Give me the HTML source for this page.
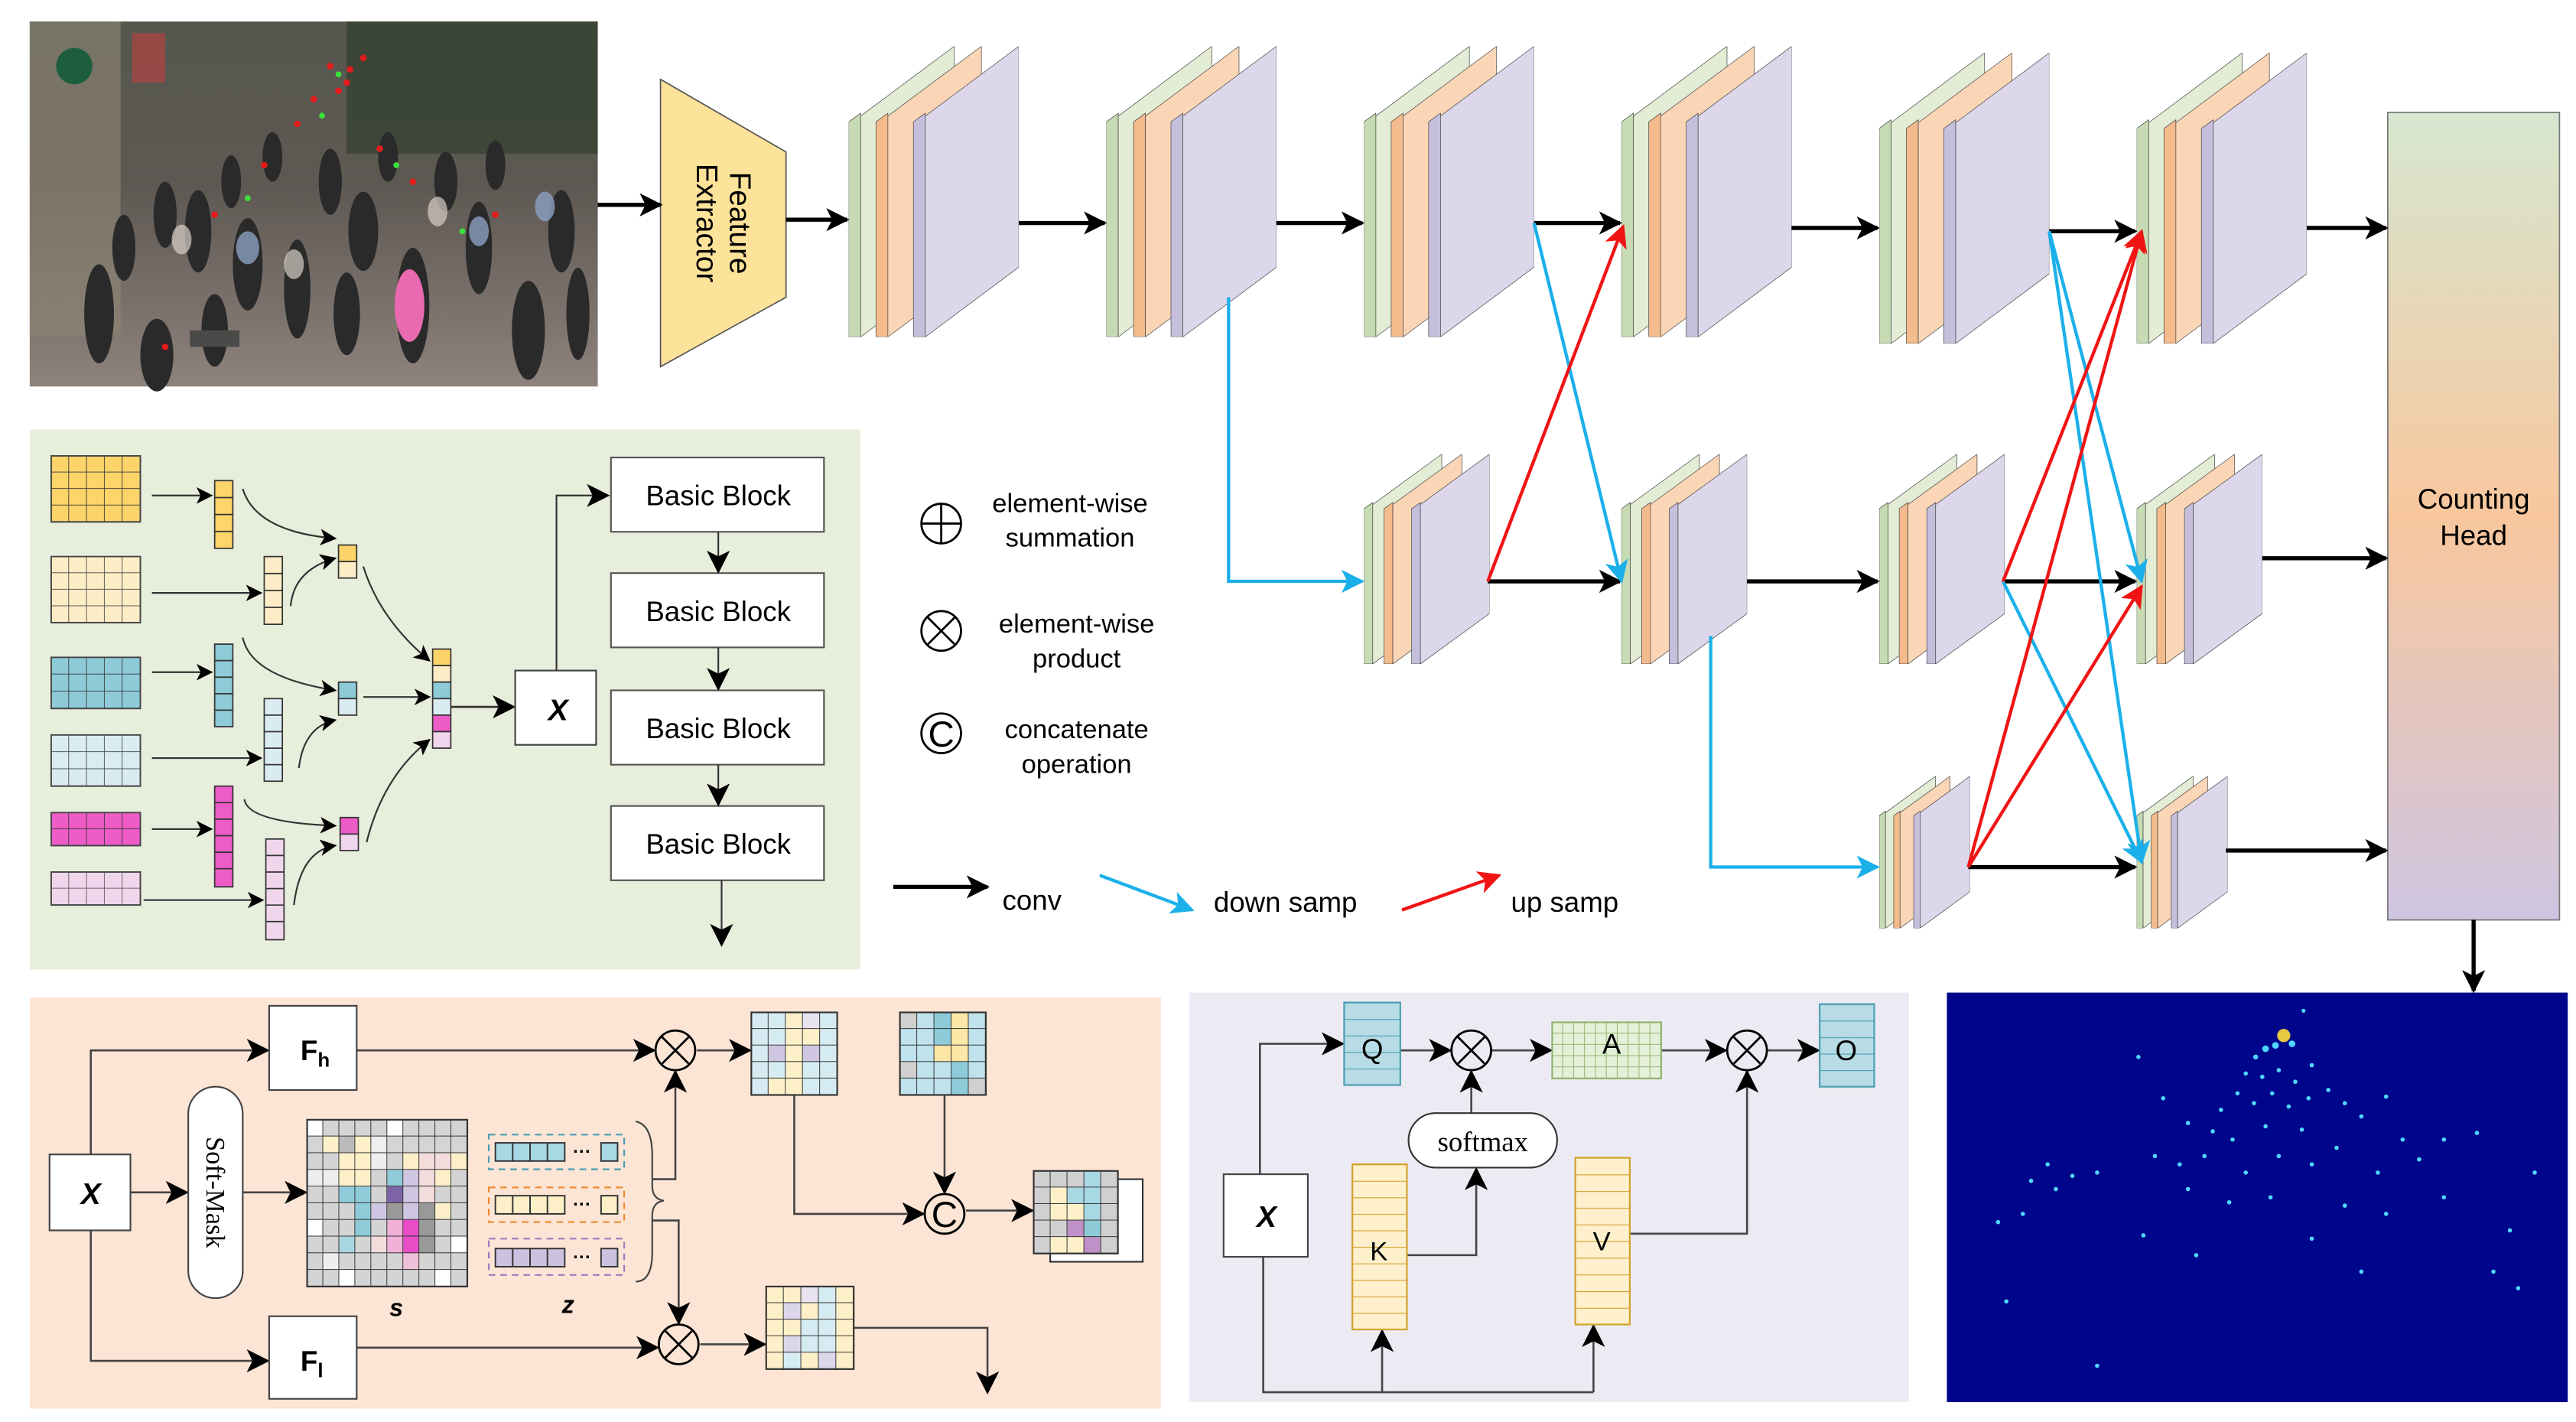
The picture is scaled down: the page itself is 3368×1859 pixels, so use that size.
<!DOCTYPE html>
<html><head><meta charset="utf-8"><style>
html,body{margin:0;padding:0;background:#fff}
svg{display:block}
text{font-family:"Liberation Sans",sans-serif}
text.serif{font-family:"Liberation Serif",serif}
</style></head><body>
<svg xmlns="http://www.w3.org/2000/svg" width="3368" height="1859" viewBox="0 0 1560 861">
<defs>
<marker id="ak" viewBox="0 0 10 10" refX="9" refY="5" markerWidth="14" markerHeight="14" markerUnits="userSpaceOnUse" orient="auto"><path d="M0,0 L10,5 L0,10 L2.5,5z" fill="#000"/></marker>
<marker id="ak2" viewBox="0 0 10 10" refX="9" refY="5" markerWidth="10" markerHeight="10" markerUnits="userSpaceOnUse" orient="auto"><path d="M0,0 L10,5 L0,10 L2.5,5z" fill="#000"/></marker>
<marker id="ab" viewBox="0 0 10 10" refX="9" refY="5" markerWidth="14" markerHeight="14" markerUnits="userSpaceOnUse" orient="auto"><path d="M0,0 L10,5 L0,10 L2.5,5z" fill="#1cb0ea"/></marker>
<marker id="ar" viewBox="0 0 10 10" refX="9" refY="5" markerWidth="14" markerHeight="14" markerUnits="userSpaceOnUse" orient="auto"><path d="M0,0 L10,5 L0,10 L2.5,5z" fill="#f01414"/></marker>
<symbol id="stk" viewBox="0 0 100 100" preserveAspectRatio="none">
 <g stroke="#444" stroke-width="0.7">
 <polygon points="0,26 7,23 7,100 0,100" fill="#c6dbb3" vector-effect="non-scaling-stroke"/>
 <polygon points="7,24 62,0 62,76 7,100" fill="#e3ecd4" vector-effect="non-scaling-stroke"/>
 <polygon points="16,26 23,23 23,100 16,100" fill="#f4bb8c" vector-effect="non-scaling-stroke"/>
 <polygon points="23,24 78,0 78,76 23,100" fill="#fbd6b6" vector-effect="non-scaling-stroke"/>
 <polygon points="38,26 45,23 45,100 38,100" fill="#c5bfdc" vector-effect="non-scaling-stroke"/>
 <polygon points="45,24 100,0 100,76 45,100" fill="#dcd7ea" vector-effect="non-scaling-stroke"/>
 </g>
</symbol>
<linearGradient id="ch" x1="0" y1="0" x2="0" y2="1">
 <stop offset="0" stop-color="#d6e7d0"/><stop offset="0.5" stop-color="#f8c79e"/><stop offset="1" stop-color="#cfc6e2"/>
</linearGradient>
<linearGradient id="ph" x1="0" y1="0" x2="0" y2="1">
 <stop offset="0" stop-color="#55574e"/><stop offset="0.45" stop-color="#5e5853"/><stop offset="1" stop-color="#8e827c"/>
</linearGradient>
<pattern id="gy" x="31" y="276" width="10.8" height="10" patternUnits="userSpaceOnUse"><path d="M10.8 0V10H0" fill="none" stroke="#333" stroke-width="0.8"/></pattern>
<pattern id="gc" x="31" y="337" width="10.8" height="10" patternUnits="userSpaceOnUse"><path d="M10.8 0V10H0" fill="none" stroke="#444" stroke-width="0.8"/></pattern>
<pattern id="gb" x="31" y="398" width="10.8" height="10.33" patternUnits="userSpaceOnUse"><path d="M10.8 0V10.33H0" fill="none" stroke="#333" stroke-width="0.8"/></pattern>
<pattern id="gl" x="31" y="445" width="10.8" height="10.33" patternUnits="userSpaceOnUse"><path d="M10.8 0V10.33H0" fill="none" stroke="#444" stroke-width="0.8"/></pattern>
<pattern id="gm" x="31" y="492" width="10.8" height="10" patternUnits="userSpaceOnUse"><path d="M10.8 0V10H0" fill="none" stroke="#333" stroke-width="0.8"/></pattern>
<pattern id="gp" x="31" y="528" width="10.8" height="10" patternUnits="userSpaceOnUse"><path d="M10.8 0V10H0" fill="none" stroke="#555" stroke-width="0.8"/></pattern>
<pattern id="gs" x="186" y="678" width="9.7" height="10.1" patternUnits="userSpaceOnUse"><path d="M9.7 0V10.1H0" fill="none" stroke="#333" stroke-width="0.9"/></pattern>
<pattern id="gr1" x="455" y="613" width="10.4" height="10" patternUnits="userSpaceOnUse"><path d="M10.4 0V10H0" fill="none" stroke="#333" stroke-width="0.9"/></pattern>
<pattern id="gr2" x="545" y="613" width="10.4" height="10" patternUnits="userSpaceOnUse"><path d="M10.4 0V10H0" fill="none" stroke="#333" stroke-width="0.9"/></pattern>
<pattern id="gr3" x="626" y="709" width="10.2" height="10" patternUnits="userSpaceOnUse"><path d="M10.2 0V10H0" fill="none" stroke="#333" stroke-width="0.9"/></pattern>
<pattern id="gr4" x="464" y="779" width="10.6" height="10" patternUnits="userSpaceOnUse"><path d="M10.6 0V10H0" fill="none" stroke="#333" stroke-width="0.9"/></pattern>
<pattern id="ga" x="940" y="619" width="6.6" height="6.8" patternUnits="userSpaceOnUse"><path d="M6.6 0V6.8H0" fill="none" stroke="#8fb36e" stroke-width="0.9"/></pattern>
<pattern id="gq" x="0" y="607" width="100" height="10" patternUnits="userSpaceOnUse"><path d="M0 0H100" stroke="#4a9db3" stroke-width="1"/></pattern>
<pattern id="go" x="0" y="608" width="100" height="10" patternUnits="userSpaceOnUse"><path d="M0 0H100" stroke="#4a9db3" stroke-width="1"/></pattern>
<pattern id="gk" x="0" y="705" width="100" height="10" patternUnits="userSpaceOnUse"><path d="M0 0H100" stroke="#d1a12c" stroke-width="1"/></pattern>
<pattern id="gv" x="0" y="701" width="100" height="10.1" patternUnits="userSpaceOnUse"><path d="M0 0H100" stroke="#d1a12c" stroke-width="1"/></pattern>
</defs>

<!-- photo -->
<rect x="18" y="13" width="344" height="221" fill="url(#ph)"/>
<rect x="18" y="13" width="55" height="190" fill="#8f8775" opacity="0.6"/>
<rect x="210" y="13" width="152" height="80" fill="#33402f" opacity="0.75"/>
<circle cx="45" cy="40" r="11" fill="#1d5e3e"/>
<rect x="80" y="20" width="20" height="30" fill="#c04040" opacity="0.6"/>
<g fill="#2a2a2a">
<ellipse cx="60" cy="190" rx="9" ry="30"/><ellipse cx="95" cy="215" rx="10" ry="22"/><ellipse cx="120" cy="140" rx="8" ry="25"/><ellipse cx="150" cy="160" rx="9" ry="28"/><ellipse cx="180" cy="175" rx="8" ry="30"/><ellipse cx="220" cy="140" rx="9" ry="24"/><ellipse cx="250" cy="185" rx="10" ry="35"/><ellipse cx="290" cy="150" rx="8" ry="28"/><ellipse cx="320" cy="200" rx="10" ry="30"/><ellipse cx="340" cy="140" rx="8" ry="25"/><ellipse cx="200" cy="110" rx="7" ry="20"/><ellipse cx="270" cy="110" rx="7" ry="18"/><ellipse cx="100" cy="130" rx="7" ry="20"/>
<ellipse cx="140" cy="110" rx="6" ry="16"/><ellipse cx="165" cy="95" rx="6" ry="15"/><ellipse cx="235" cy="95" rx="6" ry="15"/><ellipse cx="300" cy="100" rx="6" ry="15"/><ellipse cx="75" cy="150" rx="7" ry="20"/><ellipse cx="210" cy="190" rx="8" ry="25"/><ellipse cx="350" cy="190" rx="7" ry="28"/><ellipse cx="130" cy="200" rx="8" ry="22"/>
</g>
<g fill="#8aa0c0" opacity="0.8"><ellipse cx="150" cy="150" rx="7" ry="10"/><ellipse cx="290" cy="140" rx="6" ry="9"/><ellipse cx="330" cy="125" rx="6" ry="9"/></g>
<g fill="#d8d0c8" opacity="0.7"><ellipse cx="178" cy="160" rx="6" ry="9"/><ellipse cx="265" cy="128" rx="6" ry="9"/><ellipse cx="110" cy="145" rx="6" ry="9"/></g>
<ellipse cx="248" cy="185" rx="9" ry="22" fill="#e96ab0"/>
<rect x="115" y="200" width="30" height="10" fill="#4a4a48"/>
<g fill="#e21b1b"><circle cx="200" cy="40" r="2"/><circle cx="210" cy="50" r="2"/><circle cx="190" cy="60" r="2"/><circle cx="220" cy="35" r="2"/><circle cx="180" cy="75" r="2"/><circle cx="230" cy="90" r="2"/><circle cx="160" cy="100" r="2"/><circle cx="250" cy="110" r="2"/><circle cx="100" cy="210" r="2"/><circle cx="130" cy="130" r="2"/><circle cx="300" cy="130" r="2"/><circle cx="212" cy="42" r="2"/><circle cx="205" cy="55" r="2"/></g>
<g fill="#3be03b"><circle cx="205" cy="45" r="1.8"/><circle cx="195" cy="70" r="1.8"/><circle cx="240" cy="100" r="1.8"/><circle cx="150" cy="120" r="1.8"/><circle cx="280" cy="140" r="1.8"/></g>

<!-- feature extractor -->
<polygon points="400,48 476,92 476,180 400,222" fill="#fde29a" stroke="#555" stroke-width="0.8"/>
<g transform="translate(438,135) rotate(90)" font-size="18" text-anchor="middle"><text x="0" y="-4">Feature</text><text x="0" y="16">Extractor</text></g>

<!-- stacks -->
<use href="#stk" x="514" y="28" width="103" height="176"/>
<use href="#stk" x="670" y="28" width="103" height="176"/>
<use href="#stk" x="826" y="28" width="103" height="176"/>
<use href="#stk" x="982" y="28" width="103" height="176"/>
<use href="#stk" x="1138" y="32" width="103" height="176"/>
<use href="#stk" x="1294" y="32" width="103" height="176"/>
<use href="#stk" x="826" y="275" width="76" height="127"/>
<use href="#stk" x="982" y="275" width="76" height="127"/>
<use href="#stk" x="1138" y="275" width="76" height="127"/>
<use href="#stk" x="1294" y="275" width="76" height="127"/>
<use href="#stk" x="1138" y="470" width="55" height="92"/>
<use href="#stk" x="1294" y="470" width="55" height="92"/>

<!-- counting head -->
<rect x="1446" y="68" width="104" height="489" fill="url(#ch)" stroke="#777" stroke-width="0.8"/>
<text x="1498" y="308" font-size="17" text-anchor="middle">Counting</text>
<text x="1498" y="330" font-size="17" text-anchor="middle">Head</text>

<!-- black conv arrows -->
<g stroke="#000" stroke-width="2.5" fill="none" marker-end="url(#ak)">
<line x1="362" y1="124" x2="400" y2="124"/>
<line x1="476" y1="133" x2="513" y2="133"/>
<line x1="617" y1="135" x2="669" y2="135"/>
<line x1="773" y1="135" x2="825" y2="135"/>
<line x1="929" y1="135" x2="981" y2="135"/>
<line x1="1085" y1="138" x2="1137" y2="138"/>
<line x1="1241" y1="140" x2="1293" y2="140"/>
<line x1="1397" y1="138" x2="1445" y2="138"/>
<line x1="901" y1="352" x2="981" y2="352"/>
<line x1="1058" y1="352" x2="1137" y2="352"/>
<line x1="1213" y1="352" x2="1293" y2="352"/>
<line x1="1370" y1="338" x2="1445" y2="338"/>
<line x1="1192" y1="525" x2="1293" y2="525"/>
<line x1="1348" y1="515" x2="1445" y2="515"/>
<line x1="1498" y1="557" x2="1498" y2="600"/>
<line x1="541" y1="537" x2="598" y2="537"/>
</g>
<!-- blue -->
<g stroke="#1cb0ea" stroke-width="2" fill="none" marker-end="url(#ab)">
<polyline points="744,180 744,352 825,352"/>
<line x1="929" y1="135" x2="982" y2="352"/>
<polyline points="1036,385 1036,525 1137,525"/>
<line x1="1241" y1="140" x2="1297" y2="352"/>
<line x1="1241" y1="140" x2="1297" y2="522"/>
<line x1="1213" y1="352" x2="1297" y2="522"/>
<line x1="666" y1="530" x2="722" y2="551"/>
</g>
<!-- red -->
<g stroke="#f01414" stroke-width="2" fill="none" marker-end="url(#ar)">
<line x1="901" y1="352" x2="983" y2="137"/>
<line x1="1192" y1="525" x2="1297" y2="140"/>
<line x1="1192" y1="525" x2="1297" y2="355"/>
<line x1="1213" y1="352" x2="1297" y2="140"/>
<line x1="849" y1="551" x2="908" y2="530"/>
</g>
<g font-size="17"><text x="607" y="551">conv</text><text x="735" y="552">down samp</text><text x="915" y="552">up samp</text></g>

<!-- legend -->
<g stroke="#000" stroke-width="1.3" fill="none">
<circle cx="570" cy="317" r="12"/><path d="M558 317H582M570 305V329"/>
<circle cx="570" cy="382" r="12"/><path d="M562 374L578 390M578 374L562 390"/>
<circle cx="570" cy="444" r="12"/>
</g>
<text x="570" y="452" font-size="22" text-anchor="middle">C</text>
<g font-size="16" text-anchor="middle">
<text x="648" y="310">element-wise</text><text x="648" y="331">summation</text>
<text x="652" y="383">element-wise</text><text x="652" y="404">product</text>
<text x="652" y="447">concatenate</text><text x="652" y="468">operation</text>
</g>

<!-- green panel -->
<rect x="18" y="260" width="503" height="327" fill="#e8eedc"/>
<g stroke="#444" stroke-width="0.8">
<rect x="31" y="276" width="54" height="40" fill="#fcd46a"/><rect x="31" y="276" width="54" height="40" fill="url(#gy)"/>
<rect x="31" y="337" width="54" height="40" fill="#fdedc6"/><rect x="31" y="337" width="54" height="40" fill="url(#gc)"/>
<rect x="31" y="398" width="54" height="31" fill="#8dcbd8"/><rect x="31" y="398" width="54" height="31" fill="url(#gb)"/>
<rect x="31" y="445" width="54" height="31" fill="#d9ecf2"/><rect x="31" y="445" width="54" height="31" fill="url(#gl)"/>
<rect x="31" y="492" width="54" height="20" fill="#ee5cc8"/><rect x="31" y="492" width="54" height="20" fill="url(#gm)"/>
<rect x="31" y="528" width="54" height="20" fill="#f0d6ec"/><rect x="31" y="528" width="54" height="20" fill="url(#gp)"/>
</g>
<g stroke="#333" stroke-width="0.8">
<rect x="130" y="291" width="11" height="41" fill="#fcd46a"/><path d="M130 301.25H141M130 311.5H141M130 321.75H141"/>
<rect x="160" y="337" width="11" height="41" fill="#fdedc6"/><path d="M160 347.25H171M160 357.5H171M160 367.75H171"/>
<rect x="130" y="390" width="11" height="50" fill="#8dcbd8"/><path d="M130 400H141M130 410H141M130 420H141M130 430H141"/>
<rect x="160" y="423" width="11" height="50" fill="#d9ecf2"/><path d="M160 433H171M160 443H171M160 453H171M160 463H171"/>
<rect x="130" y="476" width="11" height="61" fill="#ee5cc8"/><path d="M130 486H141M130 496H141M130 506H141M130 516H141M130 526H141"/>
<rect x="161" y="508" width="11" height="61" fill="#f0d6ec"/><path d="M161 518H172M161 528H172M161 538H172M161 548H172M161 558H172"/>
<rect x="205" y="330" width="11" height="10" fill="#fcd46a"/><rect x="205" y="340" width="11" height="10" fill="#fdedc6"/>
<rect x="205" y="413" width="11" height="10" fill="#8dcbd8"/><rect x="205" y="423" width="11" height="10" fill="#d9ecf2"/>
<rect x="206" y="495" width="11" height="10" fill="#ee5cc8"/><rect x="206" y="505" width="11" height="10" fill="#f0d6ec"/>
<rect x="262" y="393" width="11" height="10" fill="#fcd46a"/><rect x="262" y="403" width="11" height="10" fill="#fdedc6"/>
<rect x="262" y="413" width="11" height="10" fill="#8dcbd8"/><rect x="262" y="423" width="11" height="10" fill="#d9ecf2"/>
<rect x="262" y="433" width="11" height="10" fill="#ee5cc8"/><rect x="262" y="443" width="11" height="10" fill="#f0d6ec"/>
</g>
<g stroke="#333" stroke-width="1" fill="none" marker-end="url(#ak2)">
<line x1="92" y1="300" x2="128" y2="300"/>
<line x1="92" y1="359" x2="158" y2="359"/>
<line x1="92" y1="407" x2="128" y2="407"/>
<line x1="92" y1="459" x2="158" y2="459"/>
<line x1="92" y1="502" x2="128" y2="502"/>
<line x1="87" y1="545" x2="159" y2="545"/>
<path d="M147 296 Q155 322 203 326"/>
<path d="M176 367 Q178 345 203 338"/>
<path d="M147 386 Q152 410 203 418"/>
<path d="M181 465 Q184 440 203 436"/>
<path d="M148 484 Q150 498 203 500"/>
<path d="M178 548 Q182 515 203 512"/>
<path d="M220 343 Q230 375 260 400"/>
<line x1="220" y1="422" x2="260" y2="422"/>
<path d="M222 510 Q232 470 260 448"/>
</g>
<line x1="273" y1="428" x2="311" y2="428" stroke="#333" stroke-width="1.3" marker-end="url(#ak)"/>
<rect x="312" y="406" width="49" height="45" fill="#fff" stroke="#444"/>
<text x="338" y="436" font-size="18" font-weight="bold" font-style="italic" text-anchor="middle">X</text>
<polyline points="337,406 337,300 368,300" fill="none" stroke="#333" stroke-width="1" marker-end="url(#ak)"/>
<g fill="#fff" stroke="#555" stroke-width="1">
<rect x="370" y="277" width="129" height="45"/><rect x="370" y="347" width="129" height="45"/><rect x="370" y="418" width="129" height="45"/><rect x="370" y="488" width="129" height="45"/>
</g>
<g font-size="17" text-anchor="middle"><text x="435" y="306">Basic Block</text><text x="435" y="376">Basic Block</text><text x="435" y="447">Basic Block</text><text x="435" y="517">Basic Block</text></g>
<g stroke="#333" stroke-width="1" marker-end="url(#ak)">
<line x1="435" y1="322" x2="435" y2="346"/><line x1="435" y1="392" x2="435" y2="417"/><line x1="435" y1="463" x2="435" y2="487"/><line x1="437" y1="533" x2="437" y2="572"/>
</g>

<!-- bottom-left panel -->
<rect x="18" y="604" width="685" height="249" fill="#fce5d5"/>
<g stroke="#444" stroke-width="1.2" fill="none" marker-end="url(#ak)">
<polyline points="55,699 55,636 162,636"/>
<polyline points="55,745 55,824 162,824"/>
<line x1="79" y1="722" x2="113" y2="722"/>
<line x1="147" y1="722" x2="185" y2="722"/>
<line x1="216" y1="636" x2="396" y2="636"/>
<line x1="216" y1="816" x2="398" y2="816"/>
<polyline points="395,714 409,714 409,649"/>
<polyline points="395,739 411,739 411,801"/>
<line x1="422" y1="636" x2="454" y2="636"/>
<line x1="424" y1="814" x2="463" y2="814"/>
<line x1="572" y1="663" x2="572" y2="722"/>
<polyline points="481,663 481,735 559,735"/>
<line x1="585" y1="733" x2="625" y2="733"/>
<polyline points="517,804 598,804 598,843"/>
</g>
<rect x="30" y="699" width="49" height="46" fill="#fff" stroke="#444"/>
<text x="55" y="729" font-size="18" font-weight="bold" font-style="italic" text-anchor="middle">X</text>
<rect x="163" y="609" width="53" height="51" fill="#fff" stroke="#444"/>
<text x="182" y="642" font-size="17" font-weight="bold">F<tspan font-size="12" dy="4">h</tspan></text>
<rect x="163" y="797" width="53" height="50" fill="#fff" stroke="#444"/>
<text x="182" y="830" font-size="17" font-weight="bold">F<tspan font-size="12" dy="4">l</tspan></text>
<rect x="114" y="658" width="33" height="128" rx="16.5" fill="#fff" stroke="#444"/>
<text class="serif" transform="translate(125,722) rotate(90)" font-size="16" text-anchor="middle">Soft-Mask</text>
<!-- S grid -->
<rect x="186" y="678" width="97" height="101" fill="#d4d4d4"/>
<g stroke="none">
<rect x="186" y="678" width="9.7" height="10.1" fill="#fff"/><rect x="234.5" y="678" width="9.7" height="10.1" fill="#fff"/>
<rect x="195.7" y="688.1" width="9.7" height="10.1" fill="#fdf0c8"/><rect x="205.4" y="688.1" width="9.7" height="10.1" fill="#bbb"/><rect x="215.1" y="688.1" width="9.7" height="10.1" fill="#fdf0c8"/><rect x="224.8" y="688.1" width="9.7" height="20.2" fill="#eee"/>
<rect x="205.4" y="698.2" width="19.4" height="20.2" fill="#fdf0c8"/><rect x="244.2" y="698.2" width="9.7" height="10.1" fill="#fdf0c8"/><rect x="253.9" y="698.2" width="19.4" height="10.1" fill="#f3dcdc"/><rect x="273.3" y="698.2" width="9.7" height="10.1" fill="#fdf0c8"/>
<rect x="186" y="708.3" width="19.4" height="10.1" fill="#eee"/><rect x="234.5" y="708.3" width="9.7" height="10.1" fill="#8fcbd9"/><rect x="244.2" y="708.3" width="9.7" height="10.1" fill="#cfc7e1"/><rect x="253.9" y="708.3" width="9.7" height="10.1" fill="#f3dcdc"/><rect x="263.6" y="708.3" width="9.7" height="10.1" fill="#fdf0c8"/>
<rect x="205.4" y="718.4" width="19.4" height="10.1" fill="#8fcbd9"/><rect x="234.5" y="718.4" width="9.7" height="10.1" fill="#7d64a8"/><rect x="244.2" y="718.4" width="9.7" height="10.1" fill="#cfc7e1"/><rect x="253.9" y="718.4" width="9.7" height="10.1" fill="#f3dcdc"/>
<rect x="215.1" y="728.5" width="9.7" height="10.1" fill="#8fcbd9"/><rect x="224.8" y="728.5" width="9.7" height="10.1" fill="#cfc7e1"/><rect x="234.5" y="728.5" width="9.7" height="10.1" fill="#999"/><rect x="244.2" y="728.5" width="9.7" height="10.1" fill="#cfc7e1"/><rect x="253.9" y="728.5" width="9.7" height="10.1" fill="#999"/><rect x="263.6" y="728.5" width="9.7" height="10.1" fill="#fdf0c8"/>
<rect x="186" y="738.6" width="9.7" height="10.1" fill="#fff"/><rect x="215.1" y="738.6" width="9.7" height="10.1" fill="#8fcbd9"/><rect x="234.5" y="738.6" width="9.7" height="10.1" fill="#f0b0d8"/><rect x="244.2" y="738.6" width="9.7" height="20.2" fill="#e84cc6"/><rect x="253.9" y="738.6" width="9.7" height="20.2" fill="#999"/>
<rect x="205.4" y="748.7" width="9.7" height="10.1" fill="#a8d6e0"/><rect x="224.8" y="748.7" width="9.7" height="10.1" fill="#f3dcdc"/><rect x="234.5" y="748.7" width="9.7" height="10.1" fill="#f0b0d8"/><rect x="273.3" y="748.7" width="9.7" height="10.1" fill="#fff"/>
<rect x="244.2" y="758.8" width="9.7" height="10.1" fill="#f0c0d8"/><rect x="195.7" y="758.8" width="9.7" height="10.1" fill="#eee"/>
<rect x="205.4" y="768.9" width="9.7" height="10.1" fill="#fff"/><rect x="263.6" y="768.9" width="9.7" height="10.1" fill="#fff"/>
</g>
<rect x="186" y="678" width="97" height="101" fill="url(#gs)" stroke="#333"/>
<text x="240" y="797" font-size="15" font-weight="bold" font-style="italic" text-anchor="middle">s</text>
<!-- z -->
<g fill="none" stroke-width="1" stroke-dasharray="4,3">
<rect x="296" y="687" width="82" height="21" stroke="#4a9db3"/>
<rect x="296" y="719" width="82" height="21" stroke="#f08a30"/>
<rect x="296" y="750" width="82" height="22" stroke="#9b7bc0"/>
</g>
<g stroke="#333" stroke-width="0.9">
<rect x="300" y="692" width="42" height="11" fill="#a9d8e5"/><path d="M310.5 692V703M321 692V703M331.5 692V703"/><rect x="364" y="692" width="10" height="11" fill="#a9d8e5"/>
<rect x="300" y="724" width="42" height="11" fill="#fdf0c8"/><path d="M310.5 724V735M321 724V735M331.5 724V735"/><rect x="364" y="724" width="10" height="11" fill="#fdf0c8"/>
<rect x="300" y="756" width="42" height="11" fill="#cbc2e0"/><path d="M310.5 756V767M321 756V767M331.5 756V767"/><rect x="364" y="756" width="10" height="11" fill="#cbc2e0"/>
</g>
<g font-size="11" font-weight="bold"><text x="347" y="701">···</text><text x="347" y="733">···</text><text x="347" y="765">···</text></g>
<text x="344" y="795" font-size="15" font-weight="bold" font-style="italic" text-anchor="middle">z</text>
<path d="M385 679 Q395 681 395 700 L395 718 Q395 726 402 727 Q395 728 395 736 L395 758 Q395 776 385 776" fill="none" stroke="#444" stroke-width="1"/>
<g stroke="#000" stroke-width="1.3" fill="#fce5d5">
<circle cx="409" cy="636" r="12"/><path d="M401 628L417 644M417 628L401 644" fill="none"/>
<circle cx="411" cy="814" r="12"/><path d="M403 806L419 822M419 806L403 822" fill="none"/>
<circle cx="572" cy="735" r="12"/>
</g>
<text x="572" y="743" font-size="22" text-anchor="middle">C</text>
<!-- result grids -->
<rect x="455" y="613" width="52" height="50" fill="#d6ecf3"/>
<rect x="475.8" y="613" width="10.4" height="50" fill="#fdf0c8"/><rect x="486.2" y="613" width="10.4" height="20" fill="#e8e4f0"/><rect x="465.4" y="633" width="10.4" height="10" fill="#cfc7e1"/><rect x="486.2" y="633" width="10.4" height="10" fill="#cfc7e1"/><rect x="465.4" y="653" width="10.4" height="10" fill="#fdf0c8"/><rect x="486.2" y="623" width="10.4" height="10" fill="#fdf0c8"/>
<rect x="455" y="613" width="52" height="50" fill="url(#gr1)" stroke="#333"/>
<rect x="545" y="613" width="52" height="50" fill="#bfe2ec"/>
<rect x="545" y="613" width="10.4" height="10" fill="#d0d0d0"/><rect x="565.8" y="613" width="10.4" height="20" fill="#8ecbd9"/><rect x="576.2" y="613" width="10.4" height="50" fill="#fde7a6"/><rect x="565.8" y="633" width="10.4" height="10" fill="#fde7a6"/><rect x="545" y="643" width="10.4" height="10" fill="#d0d0d0"/><rect x="586.6" y="653" width="10.4" height="10" fill="#d0d0d0"/><rect x="576.2" y="643" width="10.4" height="20" fill="#8ecbd9"/>
<rect x="545" y="613" width="52" height="50" fill="url(#gr2)" stroke="#333"/>
<rect x="636" y="714" width="56" height="50" fill="#fff" stroke="#333"/>
<rect x="626" y="709" width="51" height="50" fill="#d0d0d0"/>
<rect x="656.4" y="709" width="10.2" height="30" fill="#a9d8e5"/><rect x="636.2" y="719" width="10.2" height="20" fill="#fdf0c8"/><rect x="646.4" y="719" width="10.2" height="10" fill="#a9d8e5"/><rect x="646.4" y="729" width="10.2" height="10" fill="#fdf0c8"/><rect x="646.4" y="739" width="10.2" height="10" fill="#c090c8"/><rect x="656.4" y="739" width="10.2" height="10" fill="#8ecbd9"/><rect x="636.2" y="749" width="20.4" height="10" fill="#fdf0c8"/><rect x="656.4" y="749" width="10.2" height="10" fill="#c090c8"/>
<rect x="626" y="709" width="51" height="50" fill="url(#gr3)" stroke="#333"/>
<rect x="464" y="779" width="53" height="50" fill="#fdf0c8"/>
<rect x="485.2" y="779" width="10.6" height="10" fill="#e8e4f0"/><rect x="495.8" y="779" width="10.6" height="40" fill="#d6ecf3"/><rect x="474.6" y="789" width="10.6" height="10" fill="#dcd6ea"/><rect x="485.2" y="799" width="10.6" height="20" fill="#d6ecf3"/><rect x="474.6" y="809" width="10.6" height="10" fill="#dcd6ea"/><rect x="474.6" y="819" width="10.6" height="10" fill="#d6ecf3"/><rect x="495.8" y="819" width="10.6" height="10" fill="#dcd6ea"/>
<rect x="464" y="779" width="53" height="50" fill="url(#gr4)" stroke="#333"/>

<!-- bottom-mid panel -->
<rect x="720" y="601" width="436" height="248" fill="#ecebf3"/>
<g stroke="#444" stroke-width="1.2" fill="none" marker-end="url(#ak)">
<polyline points="763,711 763,632 813,632"/>
<line x1="848" y1="636" x2="878" y2="636"/>
<line x1="903" y1="636" x2="939" y2="636"/>
<line x1="1006" y1="636" x2="1045" y2="636"/>
<line x1="1070" y1="636" x2="1101" y2="636"/>
<polyline points="848,760 894,760 894,708"/>
<line x1="891" y1="674" x2="891" y2="649"/>
<polyline points="982,747 1058,747 1058,649"/>
<line x1="837" y1="843" x2="837" y2="806"/>
<line x1="965" y1="843" x2="965" y2="803"/>
</g>
<polyline points="765,761 765,843 965,843" fill="none" stroke="#444" stroke-width="1.2"/>
<rect x="814" y="607" width="34" height="50" fill="#b7dce6"/><rect x="814" y="607" width="34" height="50" fill="url(#gq)" stroke="#4a9db3"/>
<text x="831" y="641" font-size="17" text-anchor="middle">Q</text>
<rect x="1102" y="608" width="33" height="50" fill="#b7dce6"/><rect x="1102" y="608" width="33" height="50" fill="url(#go)" stroke="#4a9db3"/>
<text x="1118" y="642" font-size="17" text-anchor="middle">O</text>
<rect x="940" y="619" width="66" height="34" fill="#e5f0d8"/><rect x="940" y="619" width="66" height="34" fill="url(#ga)" stroke="#8fb36e"/>
<text x="976" y="638" font-size="17" text-anchor="middle">A</text>
<g stroke="#000" stroke-width="1.3" fill="#ecebf3">
<circle cx="891" cy="636" r="12"/><path d="M883 628L899 644M899 628L883 644" fill="none"/>
<circle cx="1058" cy="636" r="12"/><path d="M1050 628L1066 644M1066 628L1050 644" fill="none"/>
</g>
<rect x="853" y="674" width="90" height="33" rx="16.5" fill="#fff" stroke="#333"/>
<text class="serif" x="898" y="697" font-size="17" text-anchor="middle">softmax</text>
<rect x="741" y="711" width="51" height="50" fill="#fff" stroke="#444"/>
<text x="767" y="743" font-size="18" font-weight="bold" font-style="italic" text-anchor="middle">X</text>
<rect x="819" y="705" width="33" height="100" fill="#fef0cc"/><rect x="819" y="705" width="33" height="100" fill="url(#gk)" stroke="#d1a12c"/>
<text x="835" y="763" font-size="16" text-anchor="middle">K</text>
<rect x="954" y="701" width="33" height="101" fill="#fef0cc"/><rect x="954" y="701" width="33" height="101" fill="url(#gv)" stroke="#d1a12c"/>
<text x="970" y="757" font-size="16" text-anchor="middle">V</text>

<!-- density map -->
<rect x="1179" y="601" width="376" height="248" fill="#00068c"/>
<g fill="#4fd8ff">
<circle cx="1383" cy="627" r="4" fill="#e8c840"/><circle cx="1378" cy="633" r="2"/><circle cx="1372" cy="635" r="2"/><circle cx="1388" cy="632" r="2"/><circle cx="1366" cy="640" r="1.5"/><circle cx="1395" cy="612" r="1.2"/>
<circle cx="1360" cy="650" r="1.3"/><circle cx="1370" cy="652" r="1.3"/><circle cx="1380" cy="648" r="1.3"/><circle cx="1390" cy="655" r="1.3"/><circle cx="1400" cy="645" r="1.3"/><circle cx="1355" cy="662" r="1.3"/><circle cx="1365" cy="668" r="1.3"/><circle cx="1376" cy="662" r="1.3"/><circle cx="1386" cy="670" r="1.3"/><circle cx="1398" cy="665" r="1.3"/><circle cx="1410" cy="660" r="1.3"/><circle cx="1420" cy="668" r="1.3"/><circle cx="1345" cy="672" r="1.3"/><circle cx="1340" cy="685" r="1.3"/><circle cx="1352" cy="690" r="1.3"/><circle cx="1372" cy="682" r="1.3"/><circle cx="1394" cy="684" r="1.3"/><circle cx="1430" cy="676" r="1.3"/><circle cx="1445" cy="664" r="1.3"/><circle cx="1455" cy="690" r="1.3"/><circle cx="1480" cy="690" r="1.3"/><circle cx="1500" cy="686" r="1.3"/><circle cx="1325" cy="680" r="1.3"/><circle cx="1310" cy="665" r="1.3"/><circle cx="1295" cy="640" r="1.3"/><circle cx="1305" cy="700" r="1.3"/><circle cx="1320" cy="705" r="1.3"/><circle cx="1335" cy="700" r="1.3"/><circle cx="1360" cy="710" r="1.3"/><circle cx="1380" cy="700" r="1.3"/><circle cx="1400" cy="705" r="1.3"/><circle cx="1415" cy="695" r="1.3"/><circle cx="1440" cy="710" r="1.3"/><circle cx="1465" cy="702" r="1.3"/><circle cx="1240" cy="705" r="1.3"/><circle cx="1255" cy="712" r="1.3"/><circle cx="1270" cy="710" r="1.3"/><circle cx="1230" cy="715" r="1.3"/><circle cx="1245" cy="720" r="1.3"/><circle cx="1225" cy="735" r="1.3"/><circle cx="1325" cy="720" r="1.3"/><circle cx="1350" cy="728" r="1.3"/><circle cx="1375" cy="725" r="1.3"/><circle cx="1420" cy="730" r="1.3"/><circle cx="1445" cy="735" r="1.3"/><circle cx="1480" cy="725" r="1.3"/><circle cx="1535" cy="710" r="1.3"/><circle cx="1520" cy="745" r="1.3"/><circle cx="1210" cy="740" r="1.3"/><circle cx="1400" cy="750" r="1.3"/><circle cx="1330" cy="760" r="1.3"/><circle cx="1215" cy="788" r="1.3"/><circle cx="1270" cy="827" r="1.3"/><circle cx="1525" cy="780" r="1.3"/><circle cx="1430" cy="770" r="1.3"/><circle cx="1298" cy="748" r="1.3"/><circle cx="1510" cy="770" r="1.3"/>
</g>
</svg>
</body></html>
